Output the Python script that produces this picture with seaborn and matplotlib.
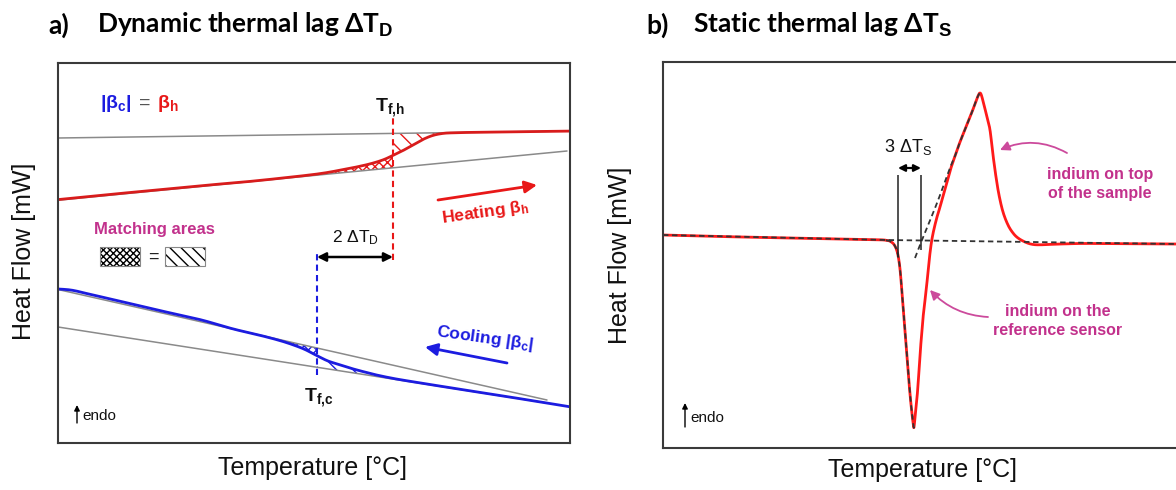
import numpy as np
import pandas as pd
import matplotlib
matplotlib.use("Agg")
import matplotlib.pyplot as plt
import seaborn as sns
from matplotlib.patches import Rectangle

# ---------------- data (x = temperature axis units, y = image-row units, converted to heat flow) ----
# panel a) heating curve and its two baselines
heat_T = [58, 100, 150, 200, 250, 300, 323, 340, 355, 370, 383, 393, 403, 413, 423, 433, 443,
          453, 470, 500, 540, 570]
heat_row = [199.6, 195.4, 190.6, 185.8, 181.4, 176.1, 173.2, 170.2, 167.3, 163.9, 159.9, 155.4,
            150.5, 145.0, 139.4, 135.4, 133.4, 132.8, 132.4, 132.0, 131.5, 131.1]
heat_base_low_T = [58, 567]
heat_base_low_row = [200.2, 151.0]
heat_base_up_T = [58, 570]
heat_base_up_row = [138.0, 131.0]

# panel a) cooling curve and its two baselines
cool_T = [58, 72, 90, 120, 160, 200, 233, 262, 280, 293, 305, 317, 328, 340, 352, 365, 377,
          393, 410, 430, 460, 480, 500, 527, 547, 570]
cool_row = [289.0, 290.2, 294.3, 301.2, 310.6, 319.6, 328.9, 335.8, 340.6, 344.8, 349.5, 355.7,
            361.0, 364.8, 368.6, 372.1, 375.1, 378.4, 381.3, 384.5, 389.3, 392.4, 395.5, 399.8,
            403.0, 406.8]
cool_base_up_T = [58, 547]
cool_base_up_row = [289.5, 400.0]
cool_base_low_T = [58, 547]
cool_base_low_row = [327.0, 403.0]

Tf_h = 393
Tf_c = 317

# panel b) DSC curve of indium
dsc_T = [663, 700, 750, 800, 850, 880, 886, 890, 894, 897, 899, 900.5, 902, 904, 906, 908, 910,
         912, 913.3, 914, 915.5, 917, 918.5, 920, 921.5, 923, 924.8, 926.5, 928.2, 930, 931.8,
         934, 937, 940, 945, 950, 955, 960, 966, 972, 976, 978.5, 980, 981.5, 984, 987, 990, 993,
         996, 999, 1003, 1008, 1013, 1018, 1025, 1032, 1040, 1055, 1080, 1110, 1140, 1176, 1190]
dsc_row = [235.0, 236.0, 237.2, 238.2, 239.2, 239.8, 240.3, 241.2, 244.5, 251.0, 261.0, 274.0,
           293.0, 318.0, 344.0, 370.0, 394.0, 414.0, 424.0, 427.0, 412.0, 398.0, 378.0, 355.0,
           336.0, 318.0, 302.0, 287.0, 270.0, 253.0, 240.0, 229.0, 217.0, 207.0, 189.0, 171.0,
           156.0, 142.0, 127.0, 112.0, 101.0, 95.0, 93.0, 95.5, 105.0, 117.0, 130.0, 155.0,
           177.0, 195.0, 212.0, 225.0, 233.0, 238.0, 242.0, 244.3, 244.8, 244.2, 243.5, 243.6,
           243.8, 244.0, 244.0]
dsc_base_T = [663, 887, 1190]
dsc_base_row = [235.0, 240.0, 244.2]
tangent_T = [915, 922, 937, 950, 955, 960, 966, 972, 976, 978.5, 980]
tangent_row = [258.0, 240.0, 203.0, 168.0, 156.0, 142.0, 127.0, 112.0, 101.0, 95.0, 93.0]
onset_T = [898, 921]

W, H = 1176, 490


def hf(rows):
    return H - np.asarray(rows, dtype=float)


def catmull(xs, ys, n=24):
    P = np.column_stack([xs, ys]).astype(float)
    P = np.vstack([P[0], P, P[-1]])
    out = []
    t = np.linspace(0, 1, n, endpoint=False)[:, None]
    for i in range(1, len(P) - 2):
        p0, p1, p2, p3 = P[i - 1], P[i], P[i + 1], P[i + 2]
        out.append(0.5 * ((2 * p1) + (-p0 + p2) * t + (2 * p0 - 5 * p1 + 4 * p2 - p3) * t ** 2
                          + (-p0 + 3 * p1 - 3 * p2 + p3) * t ** 3))
    out.append(P[-2][None, :])
    return np.vstack(out)


# ---------------- style ----------------
sns.set_theme(style="white")
plt.rcParams["font.family"] = ["Liberation Sans", "DejaVu Sans"]
plt.rcParams["mathtext.fontset"] = "custom"
plt.rcParams["mathtext.rm"] = "Liberation Sans"
plt.rcParams["mathtext.bf"] = "Liberation Sans:bold"
plt.rcParams["mathtext.it"] = "Liberation Sans:italic"
plt.rcParams["hatch.linewidth"] = 1.0

RED = "#e81818"
DRED = "#d81c1c"
BLUE = "#1c1ce0"
GREY = "#8a8a8a"
MAG = "#c2318c"
MAGA = "#cc4a9c"

fig = plt.figure(figsize=(11.76, 4.9), dpi=100)


def frac(x0, y0, x1, y1):
    return [x0 / W, 1 - y1 / H, (x1 - x0) / W, (y1 - y0) / H]


axA = fig.add_axes(frac(58, 63, 570, 443))
axB = fig.add_axes(frac(663, 62, 1190, 448))
axA.set_xlim(58, 570)
axA.set_ylim(H - 443, H - 63)
axB.set_xlim(663, 1190)
axB.set_ylim(H - 448, H - 62)


def line(ax, x, y, **kw):
    df = pd.DataFrame({"T": x, "HF": y})
    sns.lineplot(data=df, x="T", y="HF", ax=ax, sort=False, estimator=None, **kw)


# ---------------- panel a ----------------
hc = catmull(heat_T, hf(heat_row))
cc = catmull(cool_T, hf(cool_row))


def lin(T, rows, x):
    T = np.asarray(T, float)
    r = hf(rows)
    return r[0] + (r[1] - r[0]) * (x - T[0]) / (T[1] - T[0])


# hatched matching areas (heating)
xg = np.linspace(318, Tf_h, 80)
axA.fill_between(xg, np.interp(xg, hc[:, 0], hc[:, 1]), lin(heat_base_low_T, heat_base_low_row, xg),
                 facecolor="none", edgecolor=RED, hatch="xxxx", linewidth=0)
xg = np.linspace(Tf_h, 450, 60)
axA.fill_between(xg, lin(heat_base_up_T, heat_base_up_row, xg), np.interp(xg, hc[:, 0], hc[:, 1]),
                 facecolor="none", edgecolor=RED, hatch="\\\\", linewidth=0)
# hatched matching areas (cooling)
xg = np.linspace(262, Tf_c, 60)
axA.fill_between(xg, lin(cool_base_up_T, cool_base_up_row, xg), np.interp(xg, cc[:, 0], cc[:, 1]),
                 facecolor="none", edgecolor=BLUE, hatch="xxxx", linewidth=0)
xg = np.linspace(Tf_c, 385, 60)
axA.fill_between(xg, np.interp(xg, cc[:, 0], cc[:, 1]), lin(cool_base_low_T, cool_base_low_row, xg),
                 facecolor="none", edgecolor=BLUE, hatch="\\\\", linewidth=0)

for T, r in [(heat_base_low_T, heat_base_low_row), (heat_base_up_T, heat_base_up_row),
             (cool_base_up_T, cool_base_up_row), (cool_base_low_T, cool_base_low_row)]:
    line(axA, T, hf(r), color=GREY, lw=1.1)
line(axA, hc[:, 0], hc[:, 1], color=DRED, lw=2.0)
line(axA, cc[:, 0], cc[:, 1], color=BLUE, lw=2.0)

axA.vlines(Tf_h, H - 260, H - 118, colors=RED, linestyles=(0, (3, 2)), lw=1.5)
axA.vlines(Tf_c, H - 375, H - 252, colors=BLUE, linestyles=(0, (3, 2)), lw=1.5)
axA.annotate("", xy=(Tf_c, H - 257), xytext=(Tf_h, H - 257),
             arrowprops=dict(arrowstyle="<|-|>", color="black", lw=1.8, mutation_scale=13,
                             shrinkA=0, shrinkB=0))
axA.text(355, H - 238, r"2 $\Delta$T$_\mathrm{D}$", fontsize=12.5, ha="center", va="center", color="#111")
axA.text(390, H - 108, r"T$_\mathbf{f{,}h}$", fontsize=14, fontweight="bold", ha="center", va="center",
         color="#111")
axA.text(319, H - 398, r"T$_\mathbf{f{,}c}$", fontsize=14, fontweight="bold", ha="center", va="center",
         color="#111")

axA.text(100, H - 103, r"|β$_\mathbf{c}$|", fontsize=14, fontweight="bold", color=BLUE, ha="left", va="center")
axA.text(139, H - 103, "=", fontsize=14, color="#555", ha="left", va="center")
axA.text(157, H - 103, r"β$_\mathbf{h}$", fontsize=14, fontweight="bold", color=RED, ha="left", va="center")

axA.text(154, H - 229, "Matching areas", fontsize=12, fontweight="bold", color=MAG, ha="center", va="center")
axA.add_patch(Rectangle((100, H - 266), 40, 19, facecolor="white", edgecolor="black", hatch="xxxxx", lw=0))
axA.add_patch(Rectangle((100, H - 266), 40, 19, facecolor="none", edgecolor="#888", lw=0.8))
axA.text(153, H - 257, "=", fontsize=13, color="#222", ha="center", va="center")
axA.add_patch(Rectangle((165, H - 266), 40, 19, facecolor="white", edgecolor="black", hatch="\\\\\\", lw=0))
axA.add_patch(Rectangle((165, H - 266), 40, 19, facecolor="none", edgecolor="#888", lw=0.8))

axA.annotate("", xy=(537, H - 185), xytext=(438, H - 200),
             arrowprops=dict(arrowstyle="-|>", color=RED, lw=2, mutation_scale=18, shrinkA=0, shrinkB=0))
axA.text(485, H - 212, r"Heating β$_\mathbf{h}$", fontsize=12.5, fontweight="bold", color=RED,
         ha="center", va="center", rotation=8, rotation_mode="anchor")
axA.annotate("", xy=(425, H - 347), xytext=(507, H - 363),
             arrowprops=dict(arrowstyle="-|>", color=BLUE, lw=2, mutation_scale=18, shrinkA=0, shrinkB=0))
axA.text(485, H - 338, r"Cooling |β$_\mathbf{c}$|", fontsize=12.5, fontweight="bold", color=BLUE,
         ha="center", va="center", rotation=-8, rotation_mode="anchor")

# ---------------- panel b ----------------
dc = catmull(dsc_T, hf(dsc_row), n=12)
line(axB, dc[:, 0], dc[:, 1], color="#ff1a1a", lw=2.0)
line(axB, dsc_base_T, hf(dsc_base_row), color="#333", lw=1.3, linestyle=(0, (3, 2)))
mask = (dc[:, 0] >= 886) & (dc[:, 0] <= 914)
line(axB, dc[mask, 0], dc[mask, 1], color="#333", lw=1.3, linestyle=(0, (3, 2)))
tc = catmull(tangent_T, hf(tangent_row), n=12)
line(axB, tc[:, 0], tc[:, 1], color="#333", lw=1.3, linestyle=(0, (3, 2)))

axB.vlines(onset_T[0], H - 257, H - 175, colors="#222", lw=1.1)
axB.vlines(onset_T[1], H - 250, H - 175, colors="#222", lw=1.1)
axB.annotate("", xy=(onset_T[0], H - 168), xytext=(onset_T[1], H - 168),
             arrowprops=dict(arrowstyle="<|-|>", color="black", lw=1.6, mutation_scale=10,
                             shrinkA=0, shrinkB=0))
axB.text(908, H - 147, r"3 $\Delta$T$_\mathrm{S}$", fontsize=13, ha="center", va="center", color="#111")

axB.text(1100, H - 184, "indium on top\nof the sample", fontsize=11.5, fontweight="bold", color=MAG,
         ha="center", va="center", linespacing=1.4)
axB.annotate("", xy=(1000, H - 150), xytext=(1067, H - 153),
             arrowprops=dict(arrowstyle="-|>", color=MAGA, lw=1.3, mutation_scale=14,
                             connectionstyle="arc3,rad=0.25", shrinkA=0, shrinkB=0))
axB.text(1058, H - 321, "indium on the\nreference sensor", fontsize=11.5, fontweight="bold", color=MAG,
         ha="center", va="center", linespacing=1.4)
axB.annotate("", xy=(930, H - 290), xytext=(988, H - 317),
             arrowprops=dict(arrowstyle="-|>", color=MAGA, lw=1.3, mutation_scale=14,
                             connectionstyle="arc3,rad=-0.2", shrinkA=0, shrinkB=0))

# endo markers
for ax, x0, ytop, ybot, yt in [(axA, 77, 405, 423, 416), (axB, 685, 403, 427, 418)]:
    ax.annotate("", xy=(x0, H - ytop), xytext=(x0, H - ybot),
                arrowprops=dict(arrowstyle="-|>", color="black", lw=1.0, mutation_scale=8,
                                shrinkA=0, shrinkB=0))
    ax.text(x0 + 5, H - yt, "endo", fontsize=11, ha="left", va="center", color="#111")

# ---------------- axes cosmetics ----------------
for ax in (axA, axB):
    ax.set_xticks([])
    ax.set_yticks([])
    for s in ax.spines.values():
        s.set_color("#3a3a3a")
        s.set_linewidth(1.5)
        s.set_visible(True)
    ax.set_ylabel("Heat Flow [mW]", fontsize=18, color="#111")
    ax.set_xlabel("Temperature [°C]", fontsize=18, color="#111")
    ax.xaxis.label.set_va("center")
    ax.yaxis.label.set_va("center")

axA.yaxis.set_label_coords((24 - 58) / 512, (443 - 251) / 380)
axA.xaxis.set_label_coords((313 - 58) / 512, (443 - 468) / 380)
axB.yaxis.set_label_coords((620 - 663) / 527, (448 - 255) / 386)
axB.xaxis.set_label_coords((923 - 663) / 527, (448 - 470) / 386)

# panel titles
tkw = dict(fontsize=19, fontweight="bold", family=["Lato", "DejaVu Sans"], va="center", color="black")
fig.text(48 / W, 1 - 25 / H, "a)", **tkw)
fig.text(97 / W, 1 - 25 / H, r"Dynamic thermal lag ΔT$_\mathbf{D}$", **tkw)
fig.text(646 / W, 1 - 25 / H, "b)", **tkw)
fig.text(693 / W, 1 - 25 / H, r"Static thermal lag ΔT$_\mathbf{S}$", **tkw)

fig.savefig("out.png", dpi=100)
